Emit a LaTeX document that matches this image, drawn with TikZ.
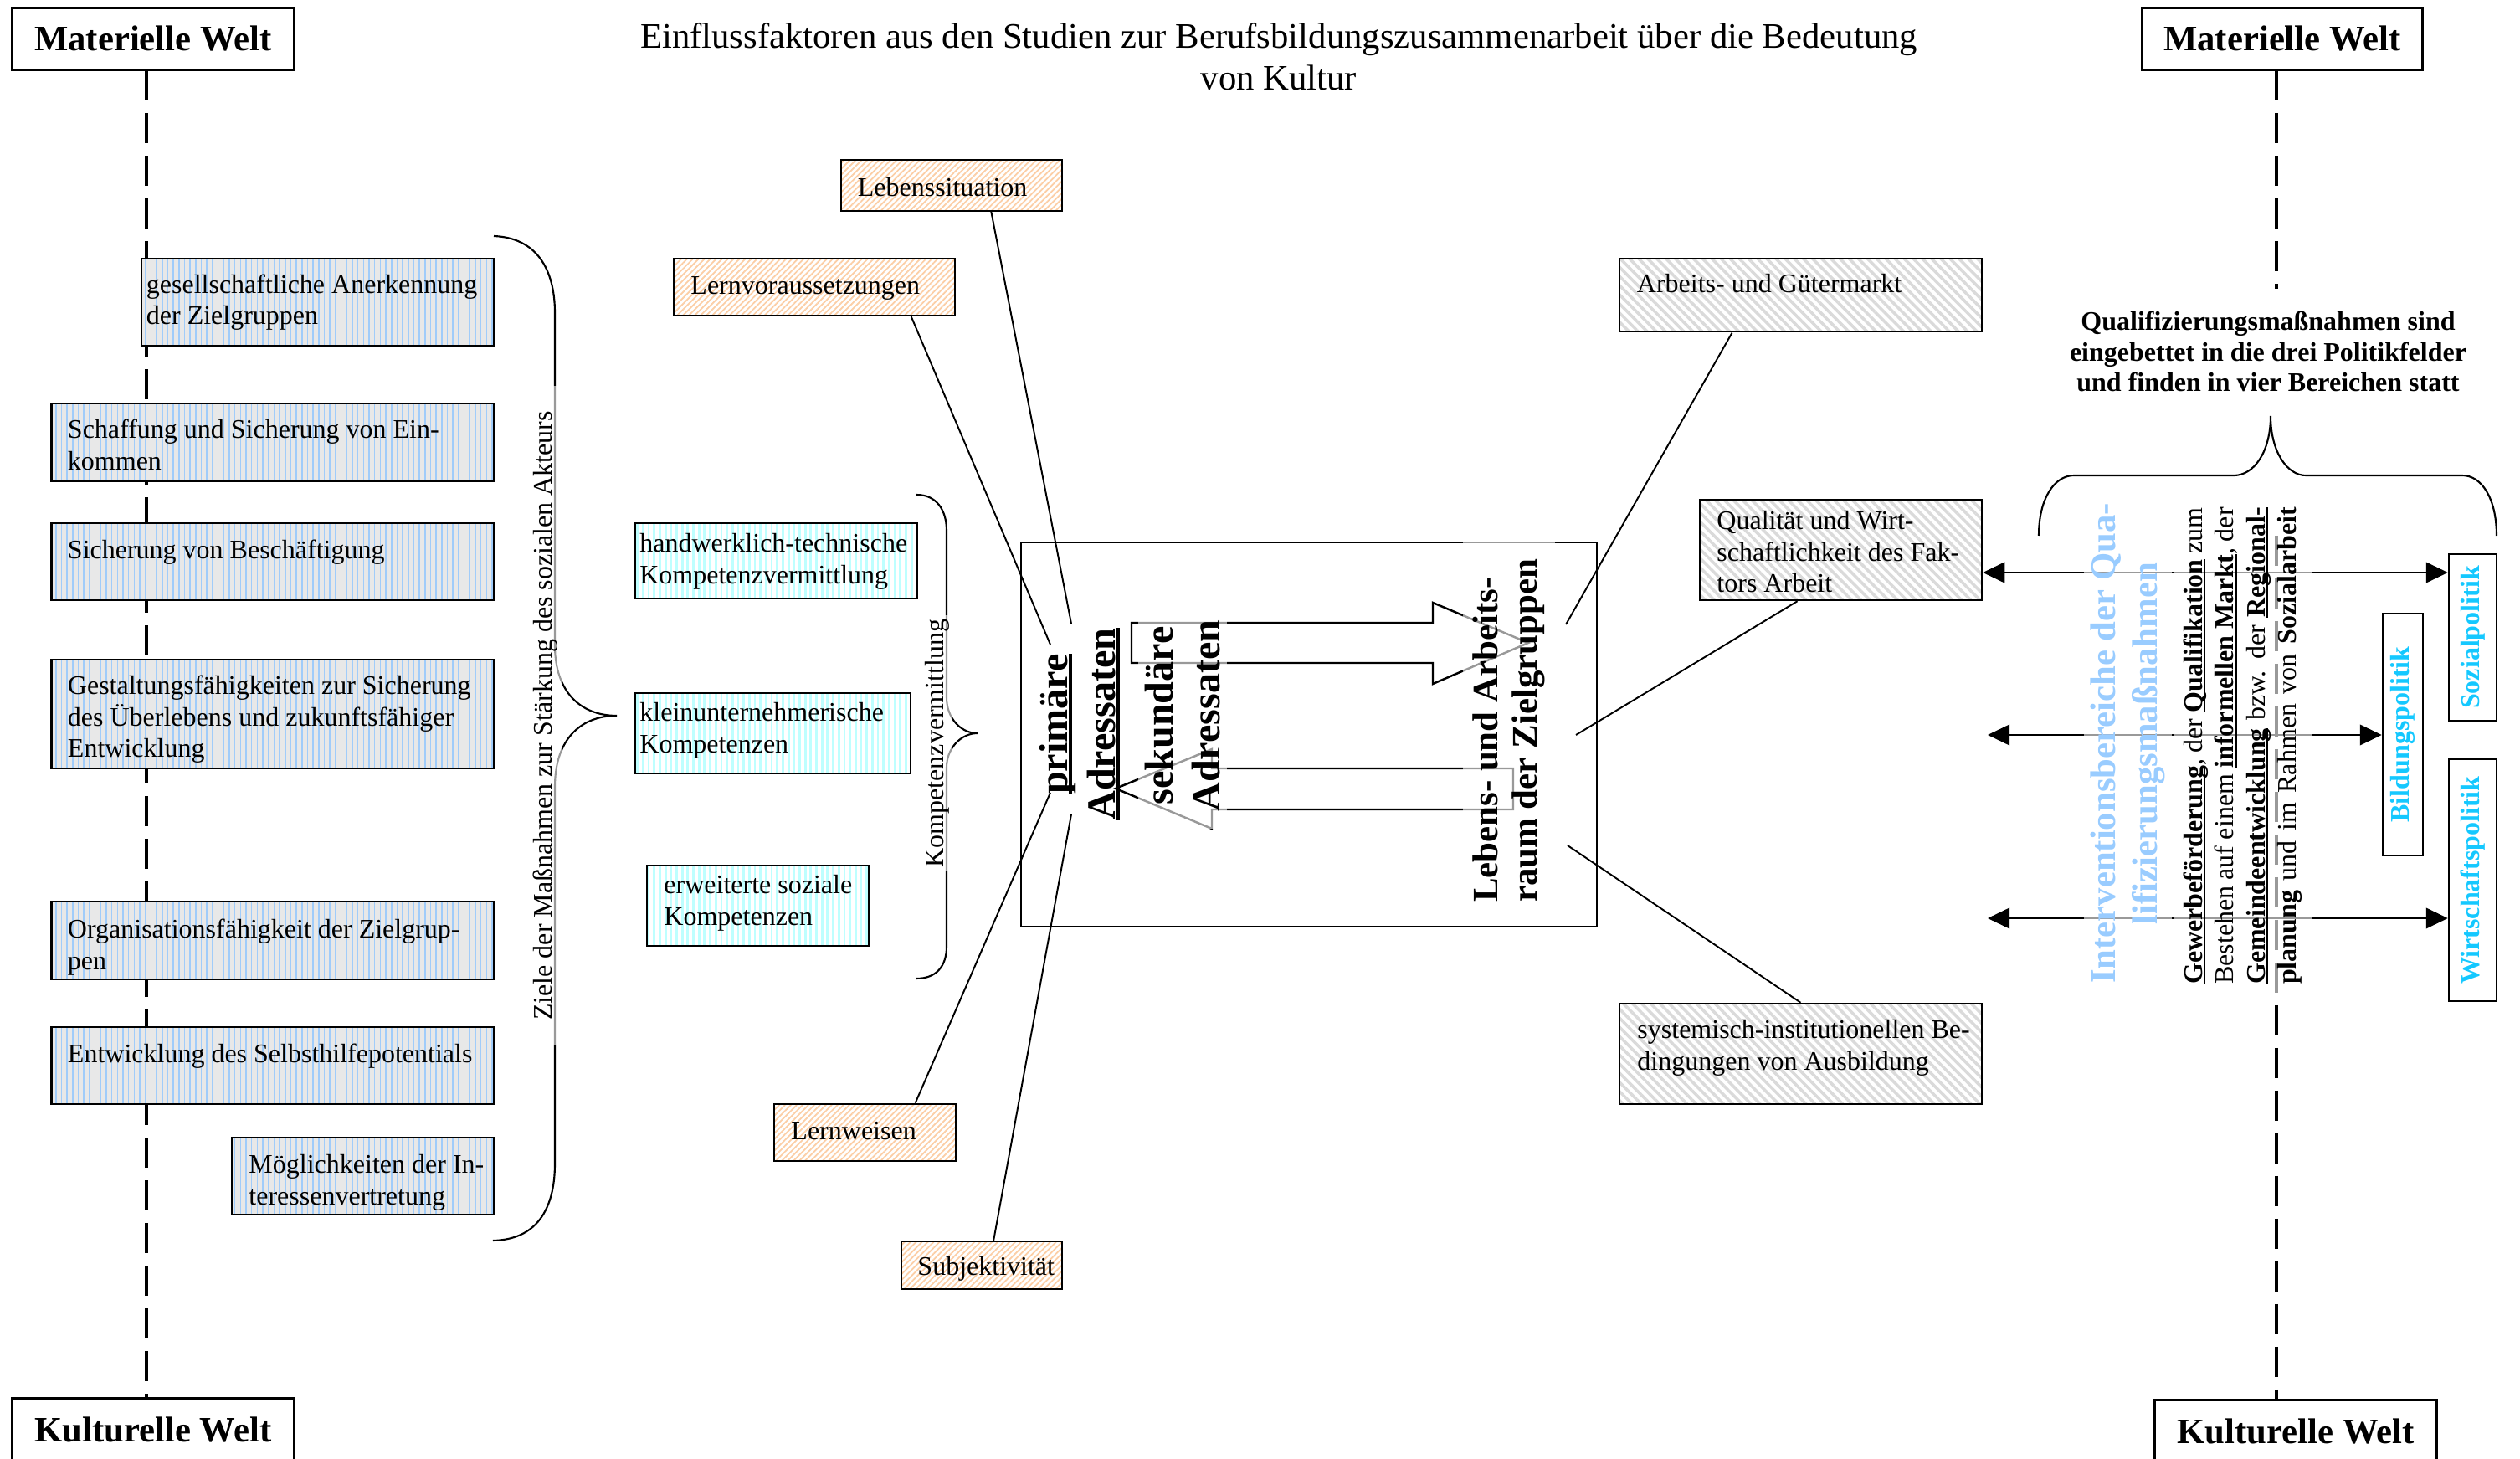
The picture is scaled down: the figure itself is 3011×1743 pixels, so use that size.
\documentclass[tikz,border=0pt]{standalone}
\usepackage{fontspec}
\setmainfont{Liberation Serif}
\usetikzlibrary{patterns.meta,arrows.meta,fit,calc}

\definecolor{stripeblue}{RGB}{160,204,250}
\definecolor{stripegray}{RGB}{232,232,232}
\definecolor{stripecyan}{RGB}{190,255,255}
\definecolor{hatchorange}{RGB}{252,206,165}
\definecolor{hatchgray}{RGB}{218,218,218}
\definecolor{areablue}{RGB}{153,204,255}
\definecolor{fieldcyan}{RGB}{20,200,255}

% font sizes (1 unit = 0.01cm)
\newcommand\fbody{\fontsize{9.1}{10.65}\selectfont}
\newcommand\fembed{\fontsize{9.1}{10.3}\selectfont}
\newcommand\fhead{\fontsize{12.15}{14.2}\selectfont}
\newcommand\fbig{\fontsize{13.7}{16.2}\selectfont}
\newcommand\fraum{\fontsize{12.2}{13.2}\selectfont}

% multi-line text whose baseline is the first line
\newcommand\lines[1]{\begin{tabular}[t]{@{}l@{}}#1\end{tabular}}
\newcommand\clines[1]{\begin{tabular}[t]{@{}c@{}}#1\end{tabular}}
% thick underline at a fixed distance below the baseline
\newcommand\uword[1]{\setbox0\hbox{#1}\rlap{\rule[-0.12em]{\wd0}{0.08em}}\box0\relax}

% framed box between two corners, text set from its top left corner
\newcommand\boxnode[6]{%
  \node[#2, fit={(#3) (#4)}] (#1) {};
  \node[anchor=base west, font=\fbody] (#1-t) at ([shift={(#5)}]#1.north west) {#6};}

\tikzset{
  every node/.style={inner sep=0pt},
  framed/.style={draw, line width=0.7pt, inner sep=0pt},
  goalbox/.style={framed, preaction={fill=stripegray},
    pattern={Lines[angle=90,distance=1.9pt,line width=0.45pt]}, pattern color=stripeblue},
  compbox/.style={framed,
    pattern={Lines[angle=90,distance=1.9pt,line width=0.8pt]}, pattern color=stripecyan},
  factorbox/.style={framed,
    pattern={Lines[angle=45,distance=1.4pt,line width=0.5pt]}, pattern color=hatchorange},
  contextbox/.style={framed,
    pattern={Lines[angle=-45,distance=2.2pt,line width=1pt]}, pattern color=hatchgray},
  worldbox/.style={draw, line width=0.85pt, minimum width=3.36cm, minimum height=0.73cm,
    font=\fhead\bfseries},
  worldline/.style={line width=1.15pt, dash pattern=on 10.2pt off 4.3pt},
  link/.style={line width=0.55pt},
  brace/.style={line width=0.6pt},
  veil/.style={fill=white, fill opacity=0.6, text opacity=1},
  blockarrow/.style={line width=0.7pt, line join=miter},
  fieldarrows/.style={line width=0.6pt,
    {Triangle[length=7.4pt,width=7pt]}-{Triangle[length=7.4pt,width=7pt]}},
  fieldbox/.style={draw, line width=0.7pt, rotate=90, font=\fbody\bfseries, text=fieldcyan},
}

\begin{document}
\begin{tikzpicture}[x=0.01cm, y=-0.01cm]
\useasboundingbox (0,0) rectangle (3011,1743);
\fill[white] (0,0) rectangle (3011,1743);
\clip (0,0) rectangle (3011,1743);

% ---------- title ----------
\node[font=\fhead, anchor=base] (title) at (1528,58)
  {\clines{Einflussfaktoren aus den Studien zur Berufsbildungszusammenarbeit über die Bedeutung\\von Kultur}};

% ---------- material / cultural axes ----------
\node[worldbox] (matL) at (183,46.5) {Materielle Welt};
\node[worldbox, minimum width=3.34cm] (matR) at (2727,46.5) {Materielle Welt};
\node[worldbox, minimum height=0.74cm] (kulL) at (183,1708) {Kulturelle Welt};
\node[worldbox, minimum height=0.74cm] (kulR) at (2743,1709.5) {Kulturelle Welt};

\coordinate (axisL) at (175,0);
\coordinate (axisR) at (2720,0);
\coordinate (gapTop) at (2720,345);
\coordinate (gapBot) at (2720,640);
\draw[worldline] (matL.south -| axisL) -- (kulL.north -| axisL);
\draw[worldline] (matR.south -| axisR) -- (gapTop);
\draw[worldline] (gapBot) -- (kulR.north -| axisR);

% ---------- goals of the measures ----------
\boxnode{g1}{goalbox}{169,309}{590,413}{6,42}{\lines{gesellschaftliche Anerkennung\\der Zielgruppen}}
\boxnode{g2}{goalbox}{61.5,482}{590,575}{20,43}{\lines{Schaffung und Sicherung von Ein-\\kommen}}
\boxnode{g3}{goalbox}{61.5,625}{590,717}{20,44}{Sicherung von Beschäftigung}
\boxnode{g4}{goalbox}{61.5,788}{590,918}{20,43}{\lines{Gestaltungsfähigkeiten zur Sicherung\\des Überlebens und zukunftsfähiger\\Entwicklung}}
\boxnode{g5}{goalbox}{61.5,1077}{590,1170}{20,45}{\lines{Organisationsfähigkeit der Zielgrup-\\pen}}
\boxnode{g6}{goalbox}{61.5,1227}{590,1319}{20,44}{Entwicklung des Selbsthilfepotentials}
\boxnode{g7}{goalbox}{277,1359}{590,1451}{21,44}{\lines{Möglichkeiten der In-\\teressenvertretung}}

\draw[brace] (590,282) .. controls (640,284) and (663,320) .. (663,374) -- (663,771)
  .. controls (663,828) and (695,855) .. (737,855)
  .. controls (695,855) and (663,882) .. (663,940) -- (663,1390)
  .. controls (663,1446) and (640,1481) .. (589,1482);
\node[rotate=90, font=\fbody, veil, anchor=base, inner xsep=0.3cm, inner ysep=0.05cm] (ziele)
  at (659,855) {Ziele der Maßnahmen zur Stärkung des sozialen Akteurs};

% ---------- competences ----------
\boxnode{k1}{compbox}{759,625}{1096,715}{6,36}{\lines{handwerklich-technische\\Kompetenzvermittlung}}
\boxnode{k2}{compbox}{759,828}{1088,924}{6,35}{\lines{kleinunternehmerische\\Kompetenzen}}
\boxnode{k3}{compbox}{773,1034}{1038,1130}{21,35}{\lines{erweiterte soziale\\Kompetenzen}}

\draw[brace] (1095,591) .. controls (1118,591) and (1131,608) .. (1131,634) -- (1131,833)
  .. controls (1131,858) and (1148,876) .. (1168,876)
  .. controls (1148,876) and (1131,894) .. (1131,917) -- (1131,1131)
  .. controls (1131,1155) and (1118,1169) .. (1095,1169);
\node[rotate=90, font=\fbody, veil, anchor=base, inner xsep=0.05cm, inner ysep=0.03cm] (kv)
  at (1127,888) {Kompetenzvermittlung};

% ---------- learner factors ----------
\boxnode{ls}{factorbox}{1005,191}{1269,252}{20,44}{Lebenssituation}
\boxnode{lv}{factorbox}{805,309}{1141,377}{21,44}{Lernvoraussetzungen}
\boxnode{lw}{factorbox}{925,1319}{1142,1387}{21,44}{Lernweisen}
\boxnode{sj}{factorbox}{1077,1483}{1269,1540}{20,42}{Subjektivität}

% ---------- context factors ----------
\boxnode{am}{contextbox}{1935,309}{2368,396}{22,42}{Arbeits- und Gütermarkt}
\boxnode{qa}{contextbox}{2031,597}{2368,717}{21,37}{\lines{Qualität und Wirt-\\schaftlichkeit des Fak-\\tors Arbeit}}
\boxnode{si}{contextbox}{1935,1199}{2368,1319}{22,43}{\lines{systemisch-institutionellen Be-\\dingungen von Ausbildung}}

% ---------- central field ----------
\node[framed, line width=0.6pt, fit={(1220,648) (1908,1107)}] (field) {};

\draw[blockarrow] (1352,744) -- (1712,744) -- (1712,720) -- (1826,768) -- (1712,817)
  -- (1712,792) -- (1352,792) -- cycle;
\draw[blockarrow] (1808,918) -- (1448,918) -- (1448,895) -- (1333,942) -- (1448,990)
  -- (1448,967) -- (1808,967) -- cycle;

\node[rotate=90, font=\fbig\bfseries, align=center] (prim) at (1290,865)
  {\uword{primäre}\\\uword{Adressaten}};
\node[rotate=90, font=\fbig\bfseries, align=center, veil, inner xsep=0.2cm, inner ysep=0.08cm]
  (sek) at (1413,855) {sekundäre\\Adressaten};
\node[rotate=90, font=\fraum\bfseries, align=left, veil, inner xsep=0.25cm, inner ysep=0.12cm]
  (raum) at (1803,873) {Lebens- und Arbeits-\\raum der Zielgruppen};

% connectors to the addressees and to the living space
\coordinate (p1) at (1280,745);
\coordinate (p2) at (1255,770);
\coordinate (p3) at (1255,947);
\coordinate (p4) at (1280,973);
\coordinate (r1) at (1871,746);
\coordinate (r2) at (1883,878);
\coordinate (r3) at (1873,1010);
\draw[link] ($(ls.south west)!0.678!(ls.south east)$) -- (p1);
\draw[link] ($(lv.south west)!0.842!(lv.south east)$) -- (p2);
\draw[link] ($(lw.north west)!0.774!(lw.north east)$) -- (p3);
\draw[link] ($(sj.north west)!0.573!(sj.north east)$) -- (p4);
\draw[link] ($(am.south west)!0.312!(am.south east)$) -- (r1);
\draw[link] ($(qa.south west)!0.347!(qa.south east)$) -- (r2);
\draw[link] (si.north) -- (r3);

% ---------- policy fields ----------
\node[font=\fembed\bfseries, anchor=base] (embed) at (2710,395)
  {\clines{Qualifizierungsmaßnahmen sind\\eingebettet in die drei Politikfelder\\und finden in vier Bereichen statt}};

\draw[brace] (2436,640) .. controls (2436,595) and (2455,568) .. (2478,568) -- (2669,568)
  .. controls (2693,568) and (2713,540) .. (2713,497)
  .. controls (2713,540) and (2733,568) .. (2755,568) -- (2942,568)
  .. controls (2965,568) and (2983,595) .. (2983,640);

\node[fieldbox, minimum width=1.99cm, minimum height=0.57cm] (sozial) at (2954.5,761.5) {Sozialpolitik};
\node[fieldbox, minimum width=2.89cm, minimum height=0.48cm] (bildung) at (2871,877.5) {Bildungspolitik};
\node[fieldbox, minimum width=2.89cm, minimum height=0.57cm] (wirt) at (2954.5,1051.5) {Wirtschaftspolitik};

\coordinate (row1) at (0,684);
\coordinate (row2) at (0,878);
\coordinate (row3) at (0,1097);
\coordinate (free2) at (2375,878);
\coordinate (free3) at (2375,1097);
\draw[fieldarrows] (qa.east |- row1) -- (sozial.north |- row1);
\draw[fieldarrows] (free2) -- (bildung.north |- row2);
\draw[fieldarrows] (free3) -- (wirt.north |- row3);

\node[rotate=90, font=\fhead\bfseries, text=areablue, align=center, veil,
  inner xsep=0.22cm, inner ysep=0.08cm] (areas) at (2542,888)
  {Interventionsbereiche der Qua-\\lifizierungsmaßnahmen};
\node[rotate=90, font=\fbody, veil, inner xsep=0.2cm, inner ysep=0.08cm] (fields) at (2680,891)
  {\lines{%
   \makebox[162pt][s]{\uword{\textbf{Gewerbeförderung}}, der \uword{\textbf{Qualifikation}} zum}\\
   \makebox[162pt][s]{Bestehen auf einem \uword{\textbf{informellen Markt}}, der}\\
   \makebox[162pt][s]{\uword{\textbf{Gemeindeentwicklung}} bzw. der \uword{\textbf{Regional-}}}\\
   \makebox[162pt][s]{\textbf{planung} und im Rahmen von \textbf{Sozialarbeit}}}};
\end{tikzpicture}
\end{document}
